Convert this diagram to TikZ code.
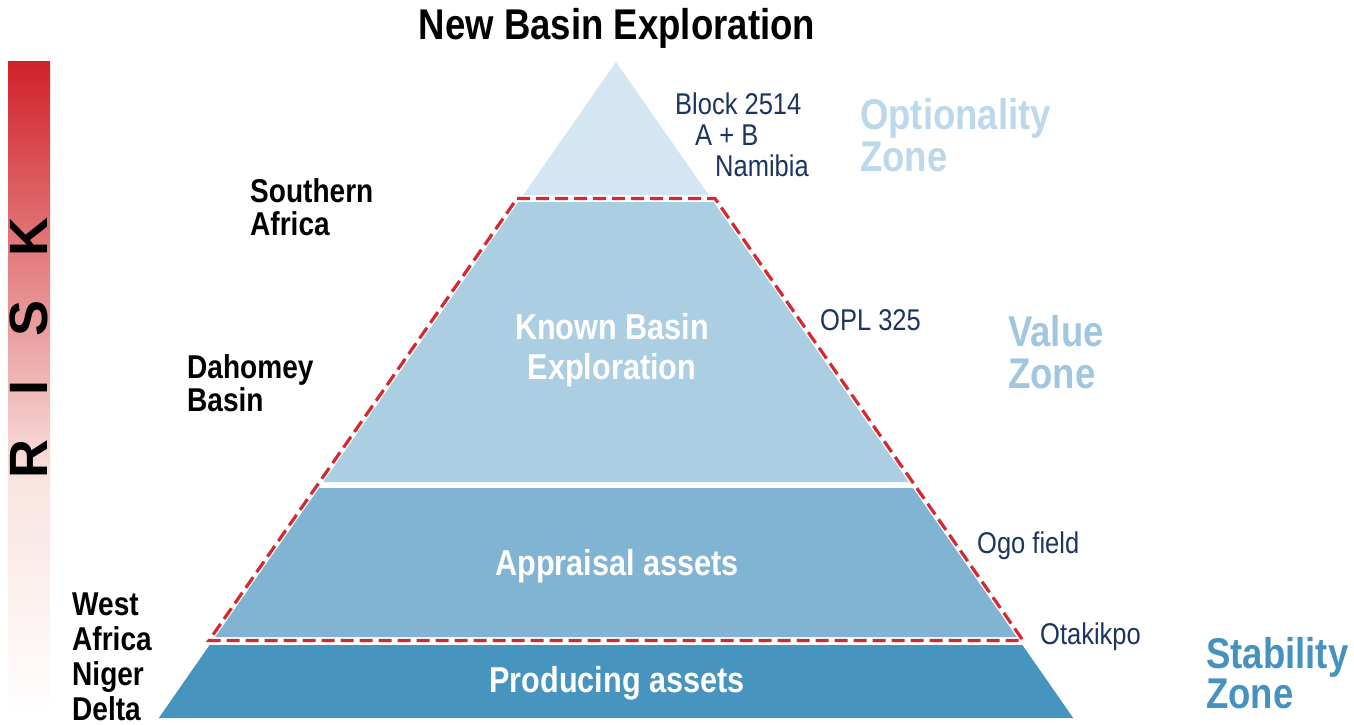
\documentclass[tikz,border=0pt]{standalone}
\usepackage{fontspec}
\setmainfont{Liberation Sans}[FakeStretch=0.85]
\newfontfamily\riskfont{Liberation Sans}
\definecolor{topband}{HTML}{D4E6F1}
\definecolor{knownband}{HTML}{ABCEE2}
\definecolor{apprband}{HTML}{80B4D2}
\definecolor{prodband}{HTML}{4794BE}
\definecolor{dashred}{HTML}{D42A2F}
\definecolor{riskred}{HTML}{D0222A}
\definecolor{riskpink}{HTML}{F9E4E0}
\definecolor{navy}{HTML}{1C3560}
\definecolor{optzone}{HTML}{BCD8EA}
\definecolor{valzone}{HTML}{A0C7DF}
\definecolor{stabzone}{HTML}{4592BF}
\tikzset{
  inlabel/.style={text=white,font=\bfseries\fontsize{36}{40}\selectfont,align=center,inner sep=0},
  leftlabel/.style={text=black,font=\bfseries\fontsize{33}{33}\selectfont,align=left,anchor=west,inner sep=0},
  rightlabel/.style={text=navy,font=\fontsize{30}{31}\selectfont,align=left,anchor=west,inner sep=0},
  zonelabel/.style={font=\bfseries\fontsize{43}{42}\selectfont,align=left,anchor=west,inner sep=0},
}
\begin{document}
\begin{tikzpicture}[x=1pt,y=-1pt]
\useasboundingbox (0,0) rectangle (1354,725);
% risk bar
\shade[top color=riskred,bottom color=riskpink] (8,62) rectangle (50,480);
\shade[top color=riskpink,bottom color=white] (8,479.5) rectangle (50,718);
\node[rotate=90,inner sep=0,font=\riskfont\bfseries\fontsize{54}{54}\selectfont] (risk) at (29,348)
  {R\hspace{44pt}I\hspace{44pt}S\hspace{44pt}K};
% pyramid bands
\fill[topband] (616,62) -- (708.7,195) -- (523.3,195) -- cycle;
\fill[knownband] (518.4,202) -- (713.6,202) -- (908.7,482) -- (323.3,482) -- cycle;
\fill[apprband] (319.1,488) -- (912.9,488) -- (1016.8,637) -- (215.2,637) -- cycle;
\fill[prodband] (209.6,645) -- (1022.4,645) -- (1073.2,718) -- (158.8,718) -- cycle;
% dashed outline
\draw[dashred,line width=3.2pt,dash pattern=on 13pt off 6pt,line join=miter]
  (517,198.5) -- (715,198.5) -- (1023,640.5) -- (209,640.5) -- cycle;
% title
\node[font=\bfseries\fontsize{43}{43}\selectfont,inner sep=0] (title) at (617,28) {New Basin Exploration};
% inside labels
\node[inlabel] (known) at (612,350) {Known Basin\\Exploration};
\node[inlabel] (appr) at (617,566) {Appraisal assets};
\node[inlabel] (prod) at (617,683) {Producing assets};
% left labels
\node[leftlabel] (south) at (250,207) {Southern\\Africa};
\node[leftlabel] (daho) at (187,383) {Dahomey\\Basin};
\node[leftlabel,font=\bfseries\fontsize{33}{35}\selectfont] (west) at (72,657) {West\\Africa\\Niger\\Delta};
% right labels
\node[rightlabel] (block) at (675,135) {Block 2514\\\hspace*{20pt}A + B\\\hspace*{40pt}Namibia};
\node[rightlabel] (opl) at (820,320) {OPL 325};
\node[rightlabel] (ogo) at (977,546) {Ogo field};
\node[rightlabel] (otak) at (1040,637) {Otakikpo};
% zone labels
\node[zonelabel,text=optzone] (optz) at (860,135) {Optionality\\Zone};
\node[zonelabel,text=valzone] (valz) at (1008,352) {Value\\Zone};
\node[zonelabel,text=stabzone,font=\bfseries\fontsize{43}{40}\selectfont] (stabz) at (1206,673) {Stability\\Zone};
\end{tikzpicture}
\end{document}
